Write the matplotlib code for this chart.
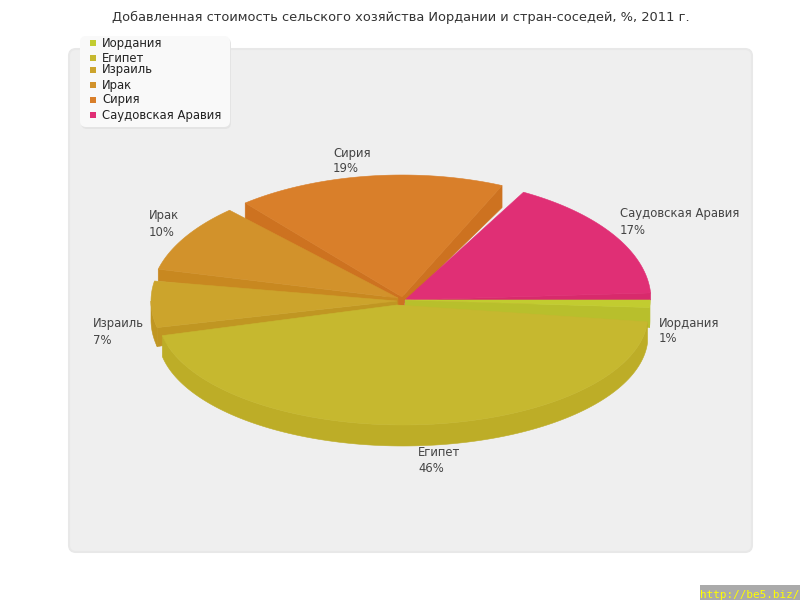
# -*- coding:utf-8 -*-
# 3D pie drawn by hand, axes are in screen pixels
import numpy as np
import matplotlib
matplotlib.use('Agg')
import matplotlib.pyplot as plt
from matplotlib.patches import FancyBboxPatch, Polygon, Rectangle

title = 'Добавленная стоимость сельского хозяйства Иордании и стран-соседей, %, 2011 г.'
categories = ['Иордания', 'Египет', 'Израиль', 'Ирак', 'Сирия', 'Саудовская Аравия']
values = [1, 46, 7, 10, 19, 17]

top_colors = ['#C2CC30', '#C6B82F', '#CCA42C', '#D2922B', '#D97F2A', '#E02F75']
side_colors = ['#B8BF2C', '#BDAD27', '#C09622', '#C88820', '#CD7220', '#D82A6C']

# layout of each slice: arc centre, radii, apex, trim of the start and end angle, depth of rim and cuts
arc_center = [(405, 300), (403, 315), (398, 301), (398, 298), (402, 297), (405, 300)]
radii = [(245, 120), (245, 110), (247, 120), (247, 120), (246, 122), (246, 123)]
apex = [(405, 300), (397, 305), (397, 301), (398, 298), (402, 297), (405, 300)]
trim = [(0, 0), (0, 0), (-2, -4.8), (-0.5, -3.4), (0, -4.8), (0, -3.3)]
rim_depth = [20, 21, 19, 0, 0, 0]
cut_start = [0, 0, 19, 12, 16, 0]
cut_end = [20, 0, 0, 0, 22, 7]
draw_order = [4, 3, 5, 0, 2, 1]

label_pos = [(659, 331), (418, 461), (93, 332), (149, 224), (333, 161), (620, 222)]
legend_y = [43, 58, 70, 85, 100, 115]

fig = plt.figure(figsize=(8, 6), dpi=100)
ax = fig.add_axes([0, 0, 1, 1])
ax.set_xlim(0, 800)
ax.set_ylim(600, 0)
ax.axis('off')

# plot area
ax.add_patch(FancyBboxPatch((69, 49), 683, 503, boxstyle='round,pad=0,rounding_size=7',
                            fc='#EFEFEF', ec='#E8E8E8', lw=1.5))

ax.text(400.5, 17, title, ha='center', va='center', fontsize=9.4, color='#333333')

# slice angles from the values, clockwise on screen from the right
edges = np.cumsum([0] + values) * 3.6


def arc(i, a0, a1):
    t = np.radians(np.linspace(a0, a1, 120))
    cx, cy = arc_center[i]
    rx, ry = radii[i]
    return np.column_stack([cx + rx * np.cos(t), cy + ry * np.sin(t)])


def face(points, color):
    # thin edge of the same colour so no seam shows between the faces
    ax.add_patch(Polygon(points, fc=color, ec=color, lw=0.4))


for i in draw_order:
    a0 = edges[i] + trim[i][0]
    a1 = edges[i + 1] + trim[i][1]
    pts = arc(i, a0, a1)
    ap = np.array(apex[i], dtype=float)

    # outer rim, only the front half can be seen
    if rim_depth[i] and a0 < 180:
        front = arc(i, a0, min(a1, 180))
        face(np.vstack([front, (front + [0, rim_depth[i]])[::-1]]), side_colors[i])

    # faces of the cuts, they meet in a short upright strip at the apex
    if cut_start[i]:
        face([ap, pts[0], pts[0] + [0, cut_start[i]], ap + [0, 8]], side_colors[i])
    if cut_end[i]:
        face([ap, pts[-1], pts[-1] + [0, cut_end[i]], ap + [0, 8]], side_colors[i])
    if cut_start[i] and cut_end[i]:
        face([ap + [-5, -2], ap + [2, -2], ap + [2, 8], ap + [-5, 8]], side_colors[i])

    face(np.vstack([ap, pts]), top_colors[i])

# slice labels
for i, name in enumerate(categories):
    ax.text(label_pos[i][0], label_pos[i][1], '%s\n%d%%' % (name, values[i]), ha='left', va='center',
            fontsize=8.35, color='#444444', linespacing=1.3)

# legend
ax.add_patch(FancyBboxPatch((81, 38), 150, 91, boxstyle='round,pad=0,rounding_size=6',
                            fc='#E4E4E4', ec='none'))
ax.add_patch(FancyBboxPatch((80, 36), 150, 91, boxstyle='round,pad=0,rounding_size=6',
                            fc='#F9F9F9', ec='none'))
for i, name in enumerate(categories):
    ax.add_patch(Rectangle((89.5, legend_y[i] - 3), 6, 6, fc=top_colors[i], ec='none'))
    ax.text(102, legend_y[i], name, ha='left', va='center', fontsize=8.35, color='#222222')

# watermark
ax.add_patch(Rectangle((700, 585), 100, 15, fc='#AAAAAA', ec='none'))
ax.text(700, 594.5, 'http://be5.biz/', ha='left', va='center', fontsize=7.9,
        family='DejaVu Sans Mono', color='#FFFF00')

plt.savefig('out.png', dpi=100)
